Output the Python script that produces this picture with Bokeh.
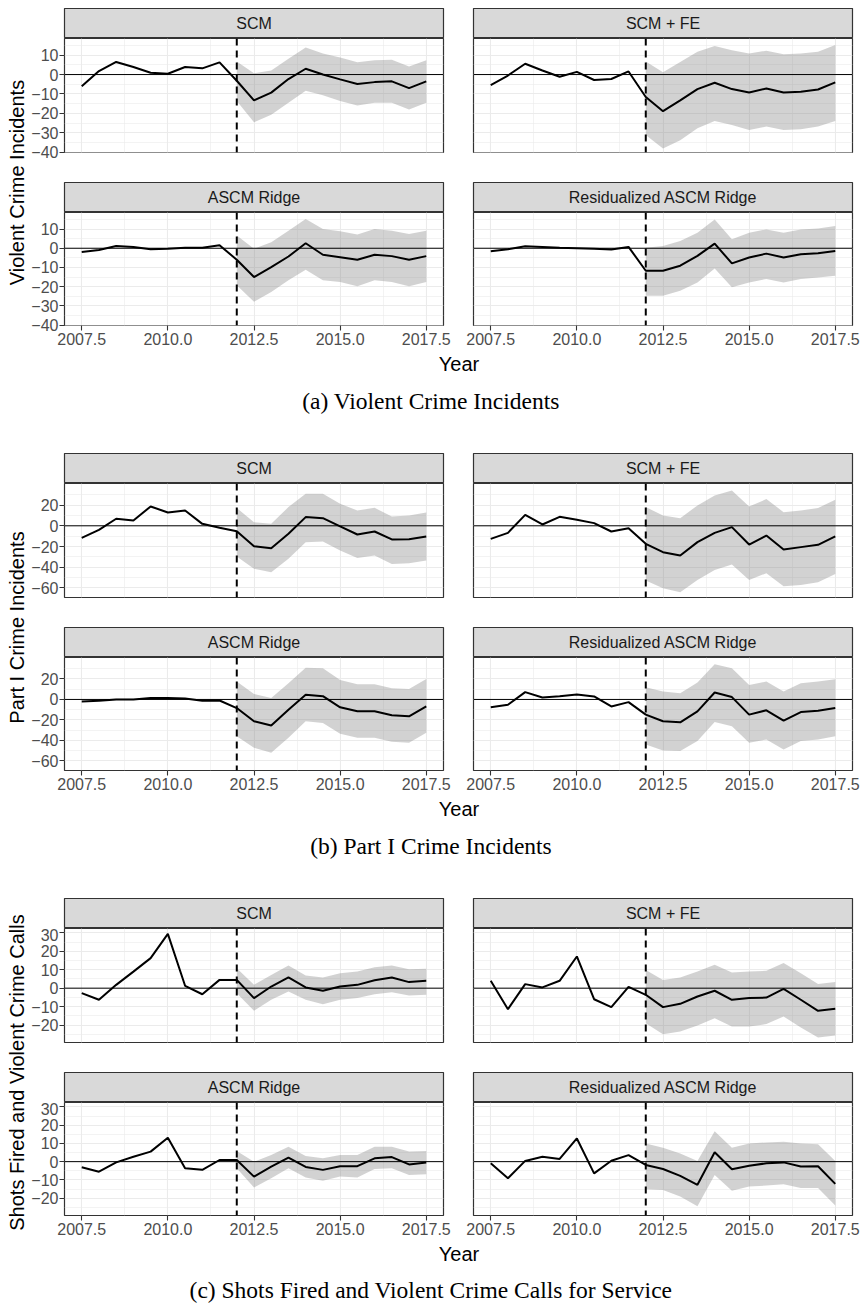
import math
from bokeh.plotting import figure
from bokeh.models import Range1d, FixedTicker, LinearAxis, Grid, Span, Spacer
from bokeh.layouts import row, column
from bokeh.embed import file_html
from bokeh.resources import INLINE
from bokeh.core.properties import value

# ------------------------------------------------------------------ data
years = [2007.5, 2008.0, 2008.5, 2009.0, 2009.5, 2010.0, 2010.5, 2011.0, 2011.5,
         2012.0, 2012.5, 2013.0, 2013.5, 2014.0, 2014.5, 2015.0, 2015.5, 2016.0,
         2016.5, 2017.0, 2017.5]
post_years = [2012.0, 2012.5, 2013.0, 2013.5, 2014.0, 2014.5, 2015.0, 2015.5,
              2016.0, 2016.5, 2017.0, 2017.5]
treatment_year = 2012.0

x_ticks = [2007.5, 2010.0, 2012.5, 2015.0, 2017.5]
x_tick_labels = ["2007.5", "2010.0", "2012.5", "2015.0", "2017.5"]
x_minor = [2008.75, 2011.25, 2013.75, 2016.25]

methods = ["SCM", "SCM + FE", "ASCM Ridge", "Residualized ASCM Ridge"]

# (a) Violent crime incidents
a_scm = [-6.0, 1.8, 6.5, 3.9, 0.9, 0.4, 3.9, 3.2, 6.3, -3.2, -13.3, -9.3, -2.3, 3.0, 0.0, -2.5, -4.9, -3.9, -3.5, -7.0, -3.5]
a_scm_lo = [-13.7, -24.6, -20.7, -14.6, -8.4, -10.7, -13.7, -16.0, -14.6, -14.6, -18.0, -14.6]
a_scm_hi = [6.8, 0.7, 2.1, 8.2, 14.0, 10.9, 8.8, 6.3, 7.4, 7.7, 4.2, 7.4]
a_fe = [-5.4, -0.5, 5.6, 2.1, -1.1, 1.4, -2.8, -2.3, 1.6, -11.6, -18.9, -13.3, -7.5, -4.2, -7.5, -9.3, -7.2, -9.3, -8.9, -7.7, -4.0]
a_fe_lo = [-31.2, -38.2, -33.9, -27.7, -23.9, -26.0, -28.6, -26.8, -28.6, -28.2, -26.8, -23.9]
a_fe_hi = [6.8, 1.2, 6.5, 11.8, 14.7, 12.6, 10.9, 12.3, 10.5, 10.9, 11.8, 15.3]
a_ascm = [-1.9, -0.9, 1.2, 0.7, -0.5, -0.3, 0.2, 0.3, 1.6, -6.0, -15.0, -9.8, -4.3, 2.6, -3.4, -4.7, -6.0, -3.4, -4.1, -6.0, -4.1]
a_ascm_lo = [-19.3, -27.9, -22.8, -16.7, -11.2, -16.7, -17.6, -19.8, -16.7, -17.6, -19.8, -17.6]
a_ascm_hi = [6.6, -0.3, 3.1, 9.1, 15.2, 10.0, 8.8, 7.1, 10.0, 9.1, 7.4, 9.1]
a_res = [-1.6, -0.5, 1.0, 0.7, 0.3, 0.0, -0.3, -0.7, 0.7, -11.7, -11.7, -9.1, -4.0, 2.4, -7.9, -4.8, -2.8, -4.8, -3.1, -2.6, -1.4]
a_res_lo = [-24.7, -24.7, -22.1, -17.8, -10.5, -20.3, -17.8, -16.0, -17.8, -16.0, -15.2, -14.3]
a_res_hi = [0.3, 1.2, 3.8, 8.1, 15.0, 4.7, 8.1, 9.8, 8.1, 9.8, 10.3, 11.6]
a_yticks = [-40, -30, -20, -10, 0, 10]
a_ytick_labels = ["\u221240", "\u221230", "\u221220", "\u221210", "0", "10"]
a_yminor = [-35, -25, -15, -5, 5, 15]
a_yrange = (-40.2, 18.6)

# (b) Part I crime incidents
b_scm = [-11.6, -3.9, 6.8, 5.2, 18.7, 12.9, 14.8, 1.9, -1.9, -5.2, -19.7, -21.6, -7.7, 8.4, 7.4, -0.6, -8.4, -5.5, -13.2, -12.9, -10.3]
b_scm_lo = [-29.7, -41.6, -44.8, -31.9, -15.8, -15.2, -23.9, -31.0, -28.7, -36.8, -36.1, -33.5]
b_scm_hi = [17.1, 3.5, 1.9, 18.1, 31.0, 31.0, 21.3, 14.8, 17.4, 9.0, 10.0, 12.9]
b_fe = [-12.6, -6.8, 10.6, 1.3, 8.7, 5.8, 2.6, -5.5, -2.3, -17.4, -25.5, -28.7, -15.8, -6.8, -1.3, -18.1, -9.4, -22.9, -20.6, -18.4, -10.3]
b_fe_lo = [-52.9, -60.3, -64.2, -52.3, -42.6, -37.4, -52.3, -45.8, -58.4, -57.1, -54.5, -46.5]
b_fe_hi = [18.1, 10.0, 7.4, 19.7, 29.4, 34.2, 18.7, 25.8, 13.2, 14.8, 17.1, 25.2]
b_ascm = [-1.9, -1.3, 0.0, 0.0, 1.3, 1.3, 1.0, -1.3, -1.0, -8.4, -21.3, -25.5, -10.0, 4.5, 3.2, -7.7, -11.6, -11.6, -15.5, -16.5, -6.8]
b_ascm_lo = [-35.8, -47.1, -51.9, -37.4, -21.3, -22.9, -33.5, -37.4, -37.4, -41.3, -42.3, -32.6]
b_ascm_hi = [17.4, 5.2, 1.3, 15.8, 31.0, 30.3, 19.0, 14.8, 14.8, 11.0, 10.3, 20.0]
b_res = [-7.7, -5.2, 7.1, 1.9, 3.2, 4.8, 2.9, -6.8, -2.6, -14.8, -21.3, -22.3, -11.6, 6.8, 2.3, -14.8, -10.6, -20.6, -12.3, -11.0, -8.4]
b_res_lo = [-43.9, -49.7, -50.3, -40.6, -21.9, -26.1, -42.3, -39.0, -48.7, -40.6, -39.0, -35.8]
b_res_hi = [11.9, 7.7, 6.1, 16.5, 34.2, 30.3, 14.2, 17.4, 7.7, 15.8, 17.4, 19.7]
b_yticks = [-60, -40, -20, 0, 20]
b_ytick_labels = ["\u221260", "\u221240", "\u221220", "0", "20"]
b_yminor = [-50, -30, -10, 10, 30]
b_yrange = (-69.3, 40.9)

# (c) Shots fired and violent crime calls for service
c_scm = [-2.7, -6.3, 1.8, 9.0, 16.3, 29.5, 1.3, -3.3, 4.5, 4.5, -5.4, 0.9, 5.8, 0.4, -1.4, 0.9, 1.8, 4.3, 5.8, 3.3, 4.0]
c_scm_lo = [-2.7, -12.3, -6.3, -1.8, -6.3, -8.7, -6.3, -5.4, -3.3, -2.2, -4.0, -3.6]
c_scm_hi = [10.8, 1.8, 7.2, 12.3, 6.9, 5.8, 8.1, 9.0, 11.4, 12.3, 10.3, 10.5]
c_fe = [4.0, -11.4, 2.2, 0.4, 4.0, 17.2, -6.0, -10.3, 0.7, -3.6, -10.3, -8.5, -4.5, -1.4, -6.3, -5.4, -5.1, -0.4, -6.3, -12.3, -11.2]
c_fe_lo = [-19.0, -25.0, -23.5, -20.3, -16.3, -20.8, -20.8, -19.5, -15.4, -21.3, -26.8, -25.7]
c_fe_hi = [9.9, 4.5, 5.8, 9.0, 12.7, 8.5, 9.0, 9.4, 13.6, 8.1, 2.2, 3.3]
c_ascm = [-3.1, -5.5, -0.4, 2.7, 5.5, 13.1, -3.6, -4.5, 0.9, 0.9, -8.2, -2.7, 2.2, -2.9, -4.5, -2.5, -2.5, 1.8, 2.5, -1.5, -0.5]
c_ascm_lo = [-3.6, -14.2, -9.1, -3.6, -8.7, -10.5, -8.2, -8.7, -4.0, -3.6, -7.3, -6.9]
c_ascm_hi = [5.8, 0.0, 3.6, 8.2, 3.1, 1.8, 3.6, 3.6, 8.2, 8.2, 5.5, 5.8]
c_res = [-0.9, -9.1, 0.4, 2.7, 1.5, 12.7, -6.4, 0.5, 3.6, -1.8, -4.0, -7.8, -12.7, 5.1, -4.2, -2.2, -0.9, -0.4, -2.7, -2.5, -12.2]
c_res_lo = [-15.1, -15.5, -19.1, -24.5, -7.3, -16.0, -13.6, -13.1, -12.4, -14.5, -14.5, -24.0]
c_res_hi = [10.0, 7.6, 4.5, 0.4, 16.7, 7.6, 10.0, 10.5, 10.9, 10.0, 9.5, 0.4]
c_yticks = [-20, -10, 0, 10, 20, 30]
c_ytick_labels = ["\u221220", "\u221210", "0", "10", "20", "30"]
c_yminor = [-25, -15, -5, 5, 15, 25]
c_yrange = (-29.5, 32.4)

y_titles = ["Violent Crime Incidents", "Part I Crime Incidents",
            "Shots Fired and Violent Crime Calls"]
captions = ["(a) Violent Crime Incidents", "(b) Part I Crime Incidents",
            "(c) Shots Fired and Violent Crime Calls for Service"]
x_title = "Year"

# ------------------------------------------------------------------ style / layout
SANS = "Liberation Sans"
SERIF = "Liberation Serif"
GRID = "#ebebeb"
DARK = "#333333"
TICK_TXT = "#4d4d4d"

TOP_PAD = 8
YLAB_W = 28       # page x 0..28
LEFT_W = 430      # 36 + 379 + 15
RIGHT_W = 403     # 15 + 379 + 9
L_BL, L_BR = 36, 15
R_BL, R_BR = 15, 9
STRIP_H = 30
GAP = 30          # between upper panel frame and lower strip
TOP_PAN_BB = 10   # part of the gap kept under upper panels (room for tick labels)
TOP_FRAME = 114
BOT_FRAME = 113
AXIS_H = 26
X_LO, X_HI = 2007.0, 2018.0


def base_fig(w, h, xr, yr, bl=0, br=0, bt=0, bb=0):
    p = figure(width=w, height=h, x_range=xr, y_range=yr,
               x_axis_location=None, y_axis_location=None, title=None,
               toolbar_location=None, output_backend="svg",
               min_border_left=bl, min_border_right=br,
               min_border_top=bt, min_border_bottom=bb)
    for g in list(p.grid):
        g.visible = False
    p.border_fill_color = "white"
    p.background_fill_color = "white"
    return p


def make_strip(label, left, gap_top):
    w = LEFT_W if left else RIGHT_W
    p = base_fig(w, STRIP_H + gap_top, Range1d(0, 1), Range1d(0, 1),
                 bl=L_BL if left else R_BL, br=L_BR if left else R_BR, bt=gap_top)
    p.background_fill_color = "#d9d9d9"
    p.outline_line_color = DARK
    p.outline_line_width = 1.2
    p.text(x=[0.5], y=[0.5], text=[label], text_align="center",
           text_baseline="middle", text_font=value(SANS),
           text_font_size="16px", text_color="#1a1a1a")
    return p


def make_panel(est, lo, hi, yr, yt, ytl, ym, left, bottom, frame_h):
    w = LEFT_W if left else RIGHT_W
    bb = AXIS_H if bottom else TOP_PAN_BB
    p = base_fig(w, frame_h + bb,
                 Range1d(X_LO, X_HI), Range1d(*yr),
                 bl=L_BL if left else R_BL, br=L_BR if left else R_BR,
                 bt=0, bb=bb)
    xt = FixedTicker(ticks=x_ticks, minor_ticks=x_minor)
    ytk = FixedTicker(ticks=yt, minor_ticks=ym)
    for dim, tk in ((0, xt), (1, ytk)):
        p.add_layout(Grid(dimension=dim, ticker=tk, grid_line_color=GRID,
                          grid_line_width=1.1, minor_grid_line_color=GRID,
                          minor_grid_line_width=0.6), "center")
    p.outline_line_color = DARK
    p.outline_line_width = 1.2

    p.varea(x=post_years, y1=lo, y2=hi, fill_color="#7f7f7f", fill_alpha=0.35)
    p.add_layout(Span(location=0, dimension="width", line_color="black",
                      line_width=1.0))
    p.add_layout(Span(location=treatment_year, dimension="height",
                      line_color="black", line_width=2.0, line_dash="7 5"))
    p.line(years, est, line_color="black", line_width=2.0)

    if bottom:
        ax = LinearAxis(ticker=xt,
                        major_label_overrides=dict(zip(x_ticks, x_tick_labels)),
                        axis_line_color=None, major_tick_line_color=DARK,
                        major_tick_line_width=1.1, major_tick_in=0,
                        major_tick_out=5, minor_tick_line_color=None,
                        major_label_text_font=SANS,
                        major_label_text_font_size="16px",
                        major_label_text_color=TICK_TXT,
                        major_label_standoff=2)
        p.add_layout(ax, "below")
    if left:
        ay = LinearAxis(ticker=ytk,
                        major_label_overrides=dict(zip(yt, ytl)),
                        axis_line_color=None, major_tick_line_color=DARK,
                        major_tick_line_width=1.1, major_tick_in=0,
                        major_tick_out=5, minor_tick_line_color=None,
                        major_label_text_font=SANS,
                        major_label_text_font_size="16px",
                        major_label_text_color=TICK_TXT,
                        major_label_standoff=1)
        p.add_layout(ay, "left")
    return p


def make_ylab(text, h):
    p = base_fig(YLAB_W, h, Range1d(0, YLAB_W), Range1d(0, h))
    p.outline_line_color = None
    p.text(x=[16], y=[h - 174], text=[text], angle=math.pi / 2,
           text_align="center", text_baseline="middle",
           text_font=value(SANS), text_font_size="20px", text_color="black")
    return p


def make_bottom(caption, h, cap_from_top):
    w = LEFT_W + RIGHT_W
    p = base_fig(w, h, Range1d(0, w), Range1d(0, h))
    p.outline_line_color = None
    p.text(x=[458.5 - YLAB_W], y=[h - 12.5], text=[x_title],
           text_align="center", text_baseline="middle",
           text_font=value(SANS), text_font_size="20px", text_color="black")
    p.text(x=[430.5 - YLAB_W], y=[h - cap_from_top], text=[caption],
           text_align="center", text_baseline="middle",
           text_font=value(SERIF), text_font_size="23.5px", text_color="black")
    return p


sections = [
    dict(series=[(a_scm, a_scm_lo, a_scm_hi), (a_fe, a_fe_lo, a_fe_hi),
                 (a_ascm, a_ascm_lo, a_ascm_hi), (a_res, a_res_lo, a_res_hi)],
         yr=a_yrange, yt=a_yticks, ytl=a_ytick_labels, ym=a_yminor,
         bottom_h=102, cap=49),
    dict(series=[(b_scm, b_scm_lo, b_scm_hi), (b_fe, b_fe_lo, b_fe_hi),
                 (b_ascm, b_ascm_lo, b_ascm_hi), (b_res, b_res_lo, b_res_hi)],
         yr=b_yrange, yt=b_yticks, ytl=b_ytick_labels, ym=b_yminor,
         bottom_h=102, cap=49),
    dict(series=[(c_scm, c_scm_lo, c_scm_hi), (c_fe, c_fe_lo, c_fe_hi),
                 (c_ascm, c_ascm_lo, c_ascm_hi), (c_res, c_res_lo, c_res_hi)],
         yr=c_yrange, yt=c_yticks, ytl=c_ytick_labels, ym=c_yminor,
         bottom_h=63, cap=48),
]

blocks = [Spacer(width=LEFT_W + RIGHT_W + YLAB_W, height=TOP_PAD)]
for k, sec in enumerate(sections):
    cells = []
    for i, (est, lo, hi) in enumerate(sec["series"]):
        left = (i % 2 == 0)
        bottom = (i >= 2)
        strip = make_strip(methods[i], left, (GAP - TOP_PAN_BB) if bottom else 0)
        pan = make_panel(est, lo, hi, sec["yr"], sec["yt"], sec["ytl"], sec["ym"],
                         left, bottom, BOT_FRAME if bottom else TOP_FRAME)
        cells.append(column(strip, pan, spacing=0))
    grid_block = column(row(cells[0], cells[1], spacing=0),
                        row(cells[2], cells[3], spacing=0),
                        make_bottom(captions[k], sec["bottom_h"], sec["cap"]),
                        spacing=0)
    total_h = STRIP_H + TOP_FRAME + GAP + STRIP_H + BOT_FRAME + AXIS_H + sec["bottom_h"]
    blocks.append(row(make_ylab(y_titles[k], total_h), grid_block, spacing=0))

page = column(*blocks, spacing=0)

open("out.html", "w").write(file_html(page, INLINE))
